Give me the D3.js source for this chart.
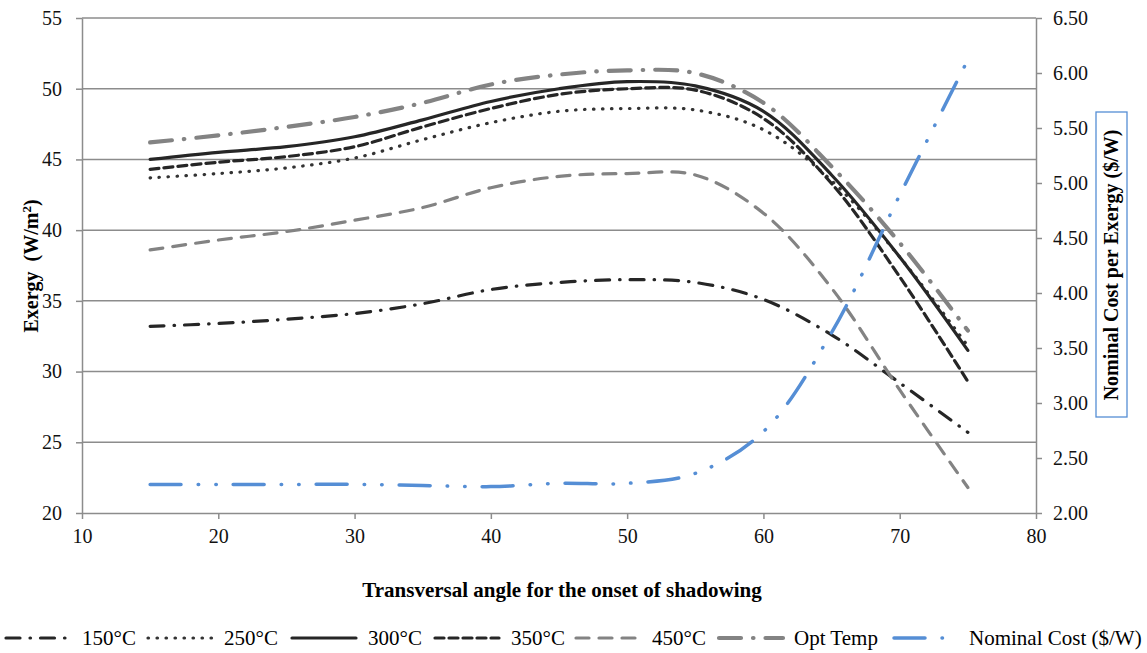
<!DOCTYPE html>
<html>
<head>
<meta charset="utf-8">
<script src="https://cdn.jsdelivr.net/npm/d3@7"></script>
<style>
  body { margin: 0; background: #fff; }
  text { font-family: "Liberation Serif", "Times New Roman", serif; }
</style>
</head>
<body>
<div id="chart"></div>
<script>
const angles = [15, 20, 25, 30, 35, 40, 45, 50, 55, 60, 65, 70, 75];
const t150 = [33.2, 33.4, 33.7, 34.1, 34.8, 35.8, 36.3, 36.5, 36.3, 35.1, 32.6, 29.2, 25.7];
const t250 = [43.7, 44.0, 44.4, 45.1, 46.4, 47.6, 48.4, 48.6, 48.5, 47.1, 43.5, 38.1, 31.8];
const t300 = [45.0, 45.5, 45.9, 46.6, 47.8, 49.1, 50.0, 50.5, 50.2, 48.4, 43.9, 38.1, 31.5];
const t350 = [44.3, 44.8, 45.2, 45.9, 47.3, 48.6, 49.6, 50.0, 49.9, 47.9, 43.3, 36.7, 29.3];
const t450 = [38.6, 39.3, 39.9, 40.7, 41.6, 43.0, 43.8, 44.0, 43.9, 41.2, 35.9, 28.7, 21.8];
const optTemp = [46.2, 46.7, 47.3, 48.0, 49.0, 50.3, 51.0, 51.3, 51.1, 49.0, 44.5, 39.1, 32.9];
const nominalCost = [2.26, 2.26, 2.26, 2.26, 2.25, 2.24, 2.27, 2.27, 2.36, 2.74, 3.64, 4.89, 6.12];

const xTicks = [10, 20, 30, 40, 50, 60, 70, 80];
const leftTicks = [20, 25, 30, 35, 40, 45, 50, 55];
const rightTicks = [2.0, 2.5, 3.0, 3.5, 4.0, 4.5, 5.0, 5.5, 6.0, 6.5];

const black = "#262626", gray = "#838383", blue = "#558ED5";

const series = [
  { name: "150°C", values: t150, axis: "left", color: black, width: 3.2, dash: "14,10,0.5,10" },
  { name: "250°C", values: t250, axis: "left", color: "#333", width: 3.2, dash: "0.5,8.5" },
  { name: "300°C", values: t300, axis: "left", color: black, width: 3.2, dash: null },
  { name: "350°C", values: t350, axis: "left", color: black, width: 3.2, dash: "9,5" },
  { name: "450°C", values: t450, axis: "left", color: gray, width: 3.2, dash: "13,10" },
  { name: "Opt Temp", values: optTemp, axis: "left", color: gray, width: 4.2, dash: "22,12,0.5,12" },
  { name: "Nominal Cost ($/W)", values: nominalCost, axis: "right", color: blue, width: 3.5, dash: "31,17,0.5,17,0.5,17" }
];

const W = 1147, H = 653;
const svg = d3.select("#chart").append("svg").attr("width", W).attr("height", H);

const x = d3.scaleLinear().domain([10, 80]).range([82, 1036]);
const yL = d3.scaleLinear().domain([20, 55]).range([513, 18]);
const yR = d3.scaleLinear().domain([2, 6.5]).range([513, 18]);

// gridlines
svg.append("g").selectAll("line").data(leftTicks.slice(1)).enter().append("line")
  .attr("x1", 82).attr("x2", 1036)
  .attr("y1", d => yL(d)).attr("y2", d => yL(d))
  .attr("stroke", "#8c8c8c").attr("stroke-width", 1.5);

function styleAxis(g) {
  g.select(".domain").attr("stroke", "#8c8c8c").attr("stroke-width", 1.5);
  g.selectAll(".tick line").attr("stroke", "#8c8c8c").attr("stroke-width", 1.5);
  g.selectAll(".tick text").attr("font-size", 20).attr("fill", "#111");
}

svg.append("g").attr("transform", "translate(82,0)")
  .call(d3.axisLeft(yL).tickValues(leftTicks).tickSize(6).tickSizeOuter(0).tickPadding(14))
  .call(styleAxis);

svg.append("g").attr("transform", "translate(1036,0)")
  .call(d3.axisRight(yR).tickValues(rightTicks).tickSize(6).tickSizeOuter(0).tickPadding(11)
    .tickFormat(d3.format(".2f")))
  .call(styleAxis);

svg.append("g").attr("transform", "translate(0,513)")
  .call(d3.axisBottom(x).tickValues(xTicks).tickSize(6).tickSizeOuter(0).tickPadding(10))
  .call(styleAxis);

// lines
series.forEach(s => {
  const ys = s.axis === "left" ? yL : yR;
  const line = d3.line()
    .x((d, i) => x(angles[i]))
    .y(d => ys(d))
    .curve(d3.curveCatmullRom.alpha(0.5));
  svg.append("path").datum(s.values)
    .attr("d", line)
    .attr("fill", "none")
    .attr("stroke", s.color)
    .attr("stroke-width", s.width)
    .attr("stroke-linecap", "round")
    .attr("stroke-dasharray", s.dash);
});

// axis titles
svg.append("text")
  .attr("transform", "translate(38,266) rotate(-90)")
  .attr("text-anchor", "middle")
  .attr("font-size", 20).attr("font-weight", "bold")
  .attr("xml:space", "preserve")
  .html("Exergy  (W/m<tspan font-size='13' dy='-7'>2</tspan><tspan dy='7'>)</tspan>");

svg.append("rect")
  .attr("x", 1096).attr("y", 112).attr("width", 31).attr("height", 305)
  .attr("fill", "none").attr("stroke", blue).attr("stroke-width", 1.3);
svg.append("text")
  .attr("transform", "translate(1118,265) rotate(-90)")
  .attr("text-anchor", "middle")
  .attr("font-size", 20).attr("font-weight", "bold")
  .text("Nominal Cost per Exergy ($/W)");

svg.append("text")
  .attr("x", 562).attr("y", 597)
  .attr("text-anchor", "middle")
  .attr("font-size", 21).attr("font-weight", "bold")
  .text("Transversal angle for the onset of shadowing");

// legend
const legendX = [4, 146, 290, 433, 574, 717, 892];
const legY = 638;
series.forEach((s, i) => {
  const g = svg.append("g").attr("transform", `translate(${legendX[i]},${legY})`);
  g.append("line").attr("x1", 2).attr("x2", 66).attr("y1", 0).attr("y2", 0)
    .attr("stroke", s.color).attr("stroke-width", s.width)
    .attr("stroke-linecap", "round")
    .attr("stroke-dasharray", s.dash);
  g.append("text").attr("x", s.name === "Opt Temp" || s.name.startsWith("Nominal") ? 77 : 78)
    .attr("y", 7).attr("font-size", 21).text(s.name);
});
</script>
</body>
</html>
